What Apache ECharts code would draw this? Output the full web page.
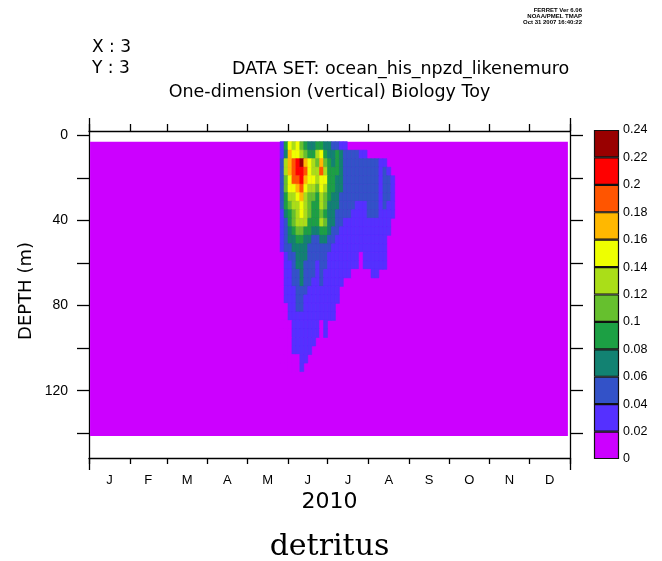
<!DOCTYPE html>
<html><head><meta charset="utf-8">
<script src="https://cdn.jsdelivr.net/npm/echarts@6/dist/echarts.min.js"></script>
<style>html,body{margin:0;padding:0;background:#fff}#c{width:662px;height:561px}</style>
</head><body><div id="c"></div>
<script>
// ---- axis categories / ticks ----
const monthLetters = ['J','F','M','A','M','J','J','A','S','O','N','D'];
const monthStartDays = [0,31,59,90,120,151,181,212,243,273,304,334,365];
const yearEndDays = [0,365];
const depthTicks = [0,20,40,60,80,100,120,140];
const depthLabelValues = [0,40,80,120];
const colorLevels = [0,0.02,0.04,0.06,0.08,0.10,0.12,0.14,0.16,0.18,0.20,0.22,0.24];
const colorPalette = ['#cc00ff','#5530ff','#3352c8','#128272','#1ca044','#66c02e','#aade18','#eeff00','#ffb800','#ff5500','#ff0000','#990000'];

// ---- model domain (background, detritus ~ 0) ----
const domainDays = [0.8, 363.4];
const domainDepth = [3.1, 141.3];

// ---- detritus field: columns every 3 days from day 145, rows every 4 m from 3 m ----
const colStartDay = 145, colStepDays = 3;
const rowStartDepth = 3, rowStepDepth = 4;
const d03 = [.03,.09,.15,.13,.15,.11,.09,.07,.07,.09,.09,.07,.07,.05,.05,.03,.03];
const d07 = [.03,.07,.17,.15,.15,.13,.11,.09,.09,.13,.15,.09,.07,.07,.09,.07,.05,.05,.05,.05,.03,.03];
const d11 = [.05,.13,.17,.19,.21,.225,.17,.15,.13,.11,.17,.11,.09,.07,.09,.07,.05,.05,.05,.05,.05,.05,.05,.05,.05,.03,.03];
const d15 = [.05,.13,.17,.19,.21,.21,.19,.15,.13,.13,.19,.13,.09,.09,.09,.07,.05,.05,.05,.05,.05,.05,.05,.05,.05,.03,.05,.03];
const d19 = [.05,.11,.15,.19,.19,.21,.17,.15,.15,.13,.15,.15,.09,.09,.07,.07,.05,.05,.05,.05,.05,.05,.05,.05,.05,.03,.05,.05,.03];
const d23 = [.05,.11,.15,.15,.17,.19,.15,.13,.13,.11,.15,.13,.09,.09,.07,.07,.05,.05,.05,.05,.05,.05,.05,.05,.05,.03,.05,.05,.03];
const d27 = [.05,.09,.13,.13,.15,.17,.13,.11,.11,.09,.13,.11,.09,.07,.07,.05,.05,.05,.05,.05,.05,.05,.05,.05,.05,.03,.05,.05,.03];
const d31 = [.05,.09,.11,.13,.13,.15,.13,.11,.09,.09,.13,.11,.07,.07,.07,.05,.05,.05,.05,.03,.03,.03,.05,.05,.05,.03,.05,.03,.03];
const d35 = [.03,.07,.09,.11,.13,.15,.13,.11,.09,.09,.11,.09,.07,.07,.05,.05,.05,.05,.03,.03,.03,.03,.05,.05,.05,.03,.03,.03,.03];
const d39 = [.03,.05,.09,.11,.13,.13,.13,.09,.09,.09,.13,.11,.07,.07,.05,.05,.03,.03,.03,.03,.03,.03,.03,.03,.03,.03,.03,.03];
const d43 = [.03,.05,.07,.09,.11,.11,.09,.09,.07,.07,.09,.09,.07,.05,.05,.03,.03,.03,.03,.03,.03,.03,.03,.03,.03,.03,.03,.03];
const d47 = [.03,.05,.07,.07,.09,.09,.07,.07,.05,.05,.07,.07,.05,.05,.03,.03,.03,.03,.03,.03,.03,.03,.03,.03,.03,.03,.03];
const d51 = [.03,.05,.05,.07,.07,.07,.07,.05,.05,.05,.05,.05,.05,.03,.03,.03,.03,.03,.03,.03,.03,.03,.03,.03,.03,.03,.03];
const d55 = [0,.03,.05,.05,.07,.07,.07,.05,.05,.05,.05,.05,.03,.03,.03,.03,.03,.03,.03,.03,0,.03,.03,.03,.03,.03,.03];
const d59 = [0,.03,.03,.05,.07,.07,.05,.05,.05,.03,.05,.05,.03,.03,.03,.03,.03,.03,.03,.03,0,.03,.03,.03,.03,.03,.03];
const d63 = [0,.03,.03,.05,.05,.07,.05,.05,.05,.03,.05,.03,.03,.03,.03,.03,.03,.03,0,0,0,0,0,.03,.03];
const d67 = [0,.03,.03,.05,.05,.07,.05,.05,.03,.03,.05,.03,.03,.03,.03,.03];
const d71 = [0,.03,.03,.03,.05,.05,.05,.03,.03,.03,.03,.03,.03,.03,.03];
const d75 = [0,.03,.03,.03,.05,.05,.03,.03,.03,.03,.03,.03,.03,.03,.03];
const d79 = [0,0,.03,.03,.05,.05,.03,.03,.03,.03,.03,.03,.03,.03];
const d83 = [0,0,.03,.03,.03,.03,.03,.03,.03,.03,.03,.03,.03,.03];
const d87 = [0,0,0,.03,.03,.03,.03,.03,.03,.03,0,.03];
const d91 = [0,0,0,.03,.03,.03,.03,.03,.03,.03,0,.03];
const d95 = [0,0,0,.03,.03,.03,.03,.03,.03];
const d99 = [0,0,0,.03,.03,.03,.03,.03];
const d103 = [0,0,0,0,0,.03,.03];
const d107 = [0,0,0,0,0,.03];
const detritusRows = [d03,d07,d11,d15,d19,d23,d27,d31,d35,d39,d43,d47,d51,d55,d59,d63,d67,d71,d75,d79,d83,d87,d91,d95,d99,d103,d107];

// ---- build data for the library ----
const cells = [];
detritusRows.forEach((row, i) => {
  row.forEach((v, j) => {
    const t0 = colStartDay + j * colStepDays;
    const z0 = rowStartDepth + i * rowStepDepth;
    cells.push([t0, t0 + colStepDays, z0, z0 + rowStepDepth, v]);
  });
});
const background = [[domainDays[0], domainDays[1], domainDepth[0], domainDepth[1], 0]];
const monthMidDays = monthStartDays.slice(0, 12).map((s, i) => (s + monthStartDays[i + 1]) / 2);
const colorbarData = colorPalette.map((c, k) => [colorLevels[k], colorLevels[k + 1], k]);

function levelColor(v) {
  let k = Math.floor(v / 0.02 + 1e-9);
  k = Math.max(0, Math.min(colorPalette.length - 1, k));
  return colorPalette[k];
}
function renderCell(params, api) {
  const a = api.coord([api.value(0), api.value(2)]);
  const b = api.coord([api.value(1), api.value(3)]);
  const c = levelColor(api.value(4));
  return { type: 'rect',
    shape: { x: Math.min(a[0], b[0]), y: Math.min(a[1], b[1]), width: Math.abs(b[0] - a[0]), height: Math.abs(b[1] - a[1]) },
    style: { fill: c, stroke: c, lineWidth: 0.6 } };
}
function renderBg(params, api) {
  const a = api.coord([api.value(0), api.value(2)]);
  const b = api.coord([api.value(1), api.value(3)]);
  return { type: 'rect',
    shape: { x: Math.min(a[0], b[0]), y: Math.min(a[1], b[1]), width: Math.abs(b[0] - a[0]), height: Math.abs(b[1] - a[1]) },
    style: { fill: levelColor(api.value(4)) } };
}
function renderBar(params, api) {
  const a = api.coord([0, api.value(0)]);
  const b = api.coord([1, api.value(1)]);
  return { type: 'rect',
    shape: { x: Math.min(a[0], b[0]) + 0.5, y: Math.min(a[1], b[1]) + 0.5, width: Math.abs(b[0] - a[0]) - 1, height: Math.abs(b[1] - a[1]) - 1 },
    style: { fill: colorPalette[api.value(2)], stroke: '#111', lineWidth: 1.2 } };
}

const black = '#000';
const lineSt = { color: black, width: 1.3 };

const chart = echarts.init(document.getElementById('c'), null, { renderer: 'canvas' });
chart.setOption({
  animation: false,
  backgroundColor: '#fff',
  grid: [
    { left: 89, top: 131, width: 481, height: 327, show: false },
    { left: 594, top: 130, width: 25, height: 329, show: false }
  ],
  xAxis: [
    { gridIndex: 0, type: 'value', position: 'bottom', min: 0, max: 365,
      axisLine: { show: true, onZero: false, lineStyle: lineSt },
      axisTick: { show: true, customValues: monthStartDays, length: 6, lineStyle: lineSt },
      axisLabel: { show: true, customValues: monthMidDays, margin: 16, fontSize: 13, fontFamily: 'Liberation Sans', color: black,
        formatter: v => { let best = 0; monthMidDays.forEach((m, i) => { if (Math.abs(m - v) < Math.abs(monthMidDays[best] - v)) best = i; }); return monthLetters[best]; } },
      splitLine: { show: false } },
    { gridIndex: 0, type: 'value', position: 'bottom', min: 0, max: 365,
      axisLine: { show: false, onZero: false },
      axisTick: { show: true, customValues: yearEndDays, length: 12, lineStyle: lineSt },
      axisLabel: { show: false }, splitLine: { show: false } },
    { gridIndex: 0, type: 'value', position: 'top', min: 0, max: 365,
      axisLine: { show: true, onZero: false, lineStyle: lineSt },
      axisTick: { show: true, customValues: monthStartDays, length: 7, lineStyle: lineSt },
      axisLabel: { show: false }, splitLine: { show: false } },
    { gridIndex: 0, type: 'value', position: 'top', min: 0, max: 365,
      axisLine: { show: false, onZero: false },
      axisTick: { show: true, customValues: yearEndDays, length: 13, lineStyle: lineSt },
      axisLabel: { show: false }, splitLine: { show: false } },
    { gridIndex: 1, type: 'value', min: 0, max: 1, show: false }
  ],
  yAxis: [
    { gridIndex: 0, type: 'value', inverse: true, position: 'left', min: -2, max: 151.6,
      axisLine: { show: true, onZero: false, lineStyle: lineSt },
      axisTick: { show: true, customValues: depthTicks, length: 12, lineStyle: lineSt },
      axisLabel: { show: true, customValues: depthLabelValues, margin: 21, fontSize: 14, fontFamily: 'Liberation Sans', color: black },
      splitLine: { show: false } },
    { gridIndex: 0, type: 'value', inverse: true, position: 'right', min: -2, max: 151.6,
      axisLine: { show: true, onZero: false, lineStyle: lineSt },
      axisTick: { show: true, customValues: depthTicks, length: 13, lineStyle: lineSt },
      axisLabel: { show: false }, splitLine: { show: false } },
    { gridIndex: 1, type: 'value', position: 'right', min: 0, max: 0.24, interval: 0.02,
      axisLine: { show: false }, axisTick: { show: false }, splitLine: { show: false },
      axisLabel: { show: true, margin: 4, fontSize: 12.5, fontFamily: 'Liberation Sans', color: black,
        showMinLabel: true, showMaxLabel: true, formatter: v => String(+v.toFixed(2)) } }
  ],
  series: [
    { type: 'custom', xAxisIndex: 0, yAxisIndex: 0, renderItem: renderBg, data: background,
      encode: { x: [0, 1], y: [2, 3] }, silent: true, clip: true },
    { type: 'custom', xAxisIndex: 0, yAxisIndex: 0, renderItem: renderCell, data: cells,
      encode: { x: [0, 1], y: [2, 3] }, silent: true, clip: true },
    { type: 'custom', xAxisIndex: 4, yAxisIndex: 2, renderItem: renderBar, data: colorbarData,
      encode: { y: [0, 1] }, silent: true }
  ],
  graphic: [
    { type: 'text', left: 92, top: 39, style: { text: 'X : 3', font: '17px "DejaVu Sans"', fill: black } },
    { type: 'text', left: 92, top: 60, style: { text: 'Y : 3', font: '17px "DejaVu Sans"', fill: black } },
    { type: 'text', left: 232, top: 60, style: { text: 'DATA SET: ocean_his_npzd_likenemuro', font: '17.5px "DejaVu Sans"', fill: black } },
    { type: 'text', x: 329.5, y: 92, style: { text: 'One-dimension (vertical) Biology Toy', font: '17.5px "DejaVu Sans"', fill: black, align: 'center', verticalAlign: 'middle' } },
    { type: 'text', x: 582, y: 10, style: { text: 'FERRET Ver 6.06', font: 'bold 6px "Liberation Sans"', fill: black, align: 'right', verticalAlign: 'middle' } },
    { type: 'text', x: 582, y: 16, style: { text: 'NOAA/PMEL TMAP', font: 'bold 6px "Liberation Sans"', fill: black, align: 'right', verticalAlign: 'middle' } },
    { type: 'text', x: 582, y: 22, style: { text: 'Oct 31 2007 16:40:22', font: 'bold 6px "Liberation Sans"', fill: black, align: 'right', verticalAlign: 'middle' } },
    { type: 'text', x: 26, y: 291, rotation: Math.PI / 2, style: { text: 'DEPTH (m)', font: '18px "DejaVu Sans"', fill: black, align: 'center', verticalAlign: 'middle' } },
    { type: 'text', x: 329.5, y: 502, style: { text: '2010', font: '22px "DejaVu Sans"', fill: black, align: 'center', verticalAlign: 'middle' } },
    { type: 'text', x: 329.5, y: 547, style: { text: 'detritus', font: '30px "DejaVu Serif"', fill: black, align: 'center', verticalAlign: 'middle' } }
  ]
});
</script></body></html>
